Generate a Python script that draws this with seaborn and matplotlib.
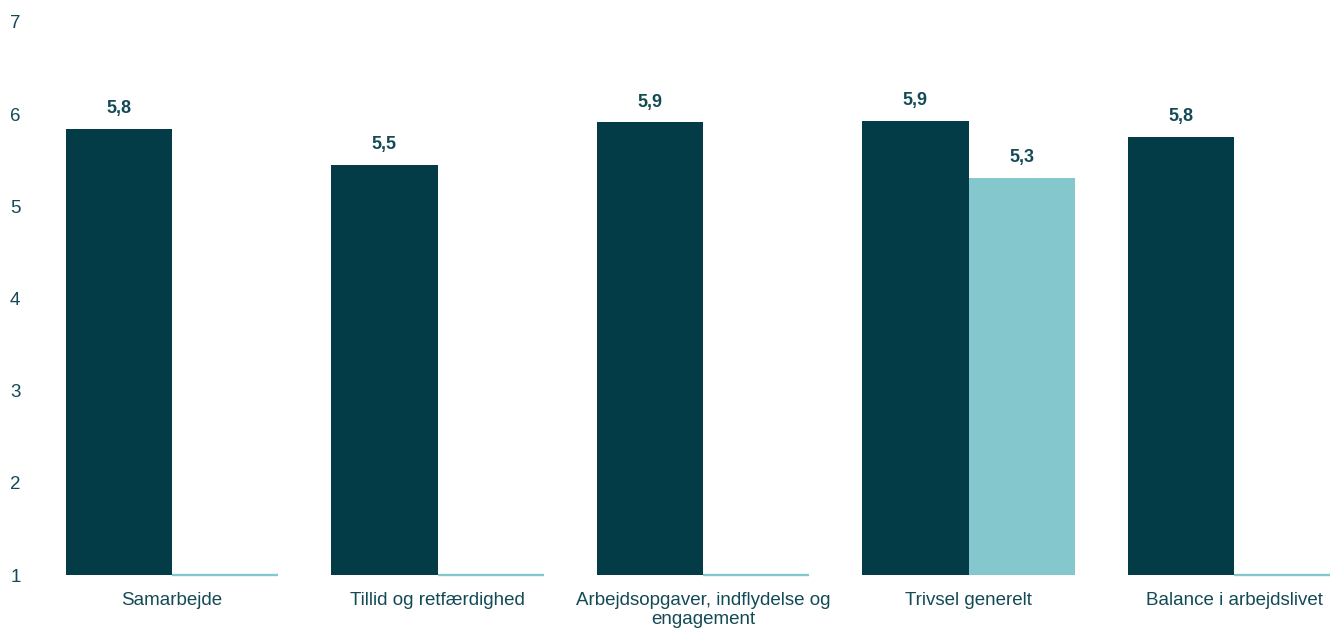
import pandas as pd
import matplotlib.pyplot as plt
import seaborn as sns

# data
categories = ["Samarbejde", "Tillid og retfærdighed",
              "Arbejdsopgaver, indflydelse og\nengagement",
              "Trivsel generelt", "Balance i arbejdslivet"]
series_names = ["Serie 1", "Serie 2"]
values_1 = [5.84, 5.45, 5.91, 5.93, 5.75]
values_2 = [1.0, 1.0, 1.0, 5.31, 1.0]   # 1.0 = axis minimum, drawn as baseline line
labels_1 = ["5,8", "5,5", "5,9", "5,9", "5,8"]
labels_2 = ["", "", "", "5,3", ""]
y_ticks = [1, 2, 3, 4, 5, 6, 7]

dark = "#033c47"
light = "#84c8cd"
text_col = "#124a56"

df = pd.DataFrame({
    "kategori": categories * 2,
    "serie": [series_names[0]] * 5 + [series_names[1]] * 5,
    "score": values_1 + values_2,
})

sns.set_style("white")
plt.rcParams["font.family"] = ["Liberation Sans", "DejaVu Sans"]

fig = plt.figure(figsize=(13.3, 6.28), dpi=100)
ax = fig.add_axes([39.25 / 1330, 53 / 628, 1327.5 / 1330, 553 / 628])

sns.barplot(data=df, x="kategori", y="score", hue="serie",
            palette=[dark, light], width=0.8, legend=False, ax=ax,
            linewidth=0, saturation=1)

# value labels
ax.bar_label(ax.containers[0], labels=labels_1, padding=8.5,
             fontsize=13, fontweight="bold", color=text_col)
ax.bar_label(ax.containers[1], labels=labels_2, padding=8.5,
             fontsize=13, fontweight="bold", color=text_col)

# bars sitting at the axis minimum show as a thin line on the baseline
for p, v in zip(ax.containers[1], values_2):
    if v <= 1.0:
        ax.hlines(1.0, p.get_x(), p.get_x() + p.get_width(),
                  color=light, linewidth=1.7, clip_on=False, zorder=3)

ax.set_xlim(-0.5, len(categories) - 0.5)
ax.set_ylim(1, 7)
ax.set_yticks(y_ticks)
ax.set_xlabel("")
ax.set_ylabel("")
sns.despine(ax=ax, left=True, bottom=True)
ax.tick_params(axis="y", length=0, pad=13.5, labelsize=13.5, labelcolor=text_col)
ax.tick_params(axis="x", length=0, pad=12.5, labelsize=13.5, labelcolor=text_col)
for lbl in ax.get_xticklabels():
    lbl.set_linespacing(1.1)

fig.savefig("out.png", dpi=100)
